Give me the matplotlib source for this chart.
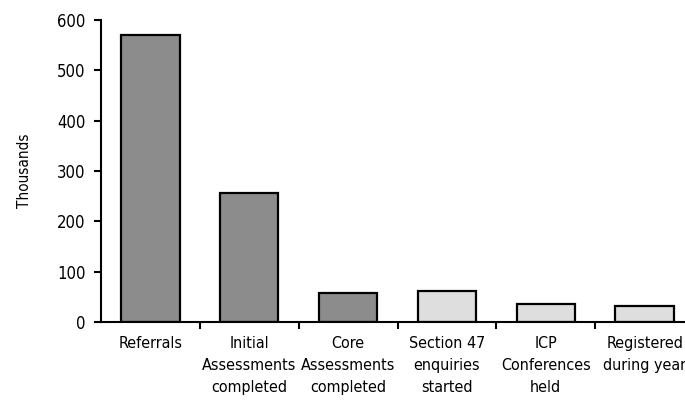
import matplotlib.pyplot as plt
import numpy as np

categories = ["Referrals", "Initial\nAssessments\ncompleted", "Core\nAssessments\ncompleted",
              "Section 47\nenquiries\nstarted", "ICP\nConferences\nheld", "Registered\nduring year"]
values = [570, 257, 57, 62, 36, 32]
colors = ["#8c8c8c", "#8c8c8c", "#8c8c8c", "#dedede", "#dedede", "#dedede"]
yticks = [0, 100, 200, 300, 400, 500, 600]

plt.rcParams['font.family'] = ['DejaVu Sans']
plt.rcParams['font.stretch'] = 'condensed'

fig = plt.figure(figsize=(6.85, 4.07), dpi=100)
ax = fig.add_axes([101/685, 85/407, 593/685, 302/407])

x = np.arange(len(categories))
ax.bar(x, values, width=0.59, color=colors, edgecolor="black", linewidth=1.6)

ax.set_ylim(0, 600)
ax.set_xlim(-0.5, 5.5)
ax.set_yticks(yticks)
ax.set_yticklabels([str(t) for t in yticks], fontsize=12, fontstretch='condensed')
ax.set_xticks(x)
ax.set_xticklabels(categories, fontsize=11.5, linespacing=1.6, va="top", fontstretch='condensed')
ax.tick_params(axis="x", which="major", length=0, pad=10)
ax.set_xticks(np.arange(0.5, 6, 1), minor=True)
ax.tick_params(axis="x", which="minor", length=5, width=1.5, direction="out")
ax.tick_params(axis="y", length=5, width=1.5, direction="out", pad=6)

for s in ["top", "right"]:
    ax.spines[s].set_visible(False)
for s in ["left", "bottom"]:
    ax.spines[s].set_linewidth(1.5)

ax.set_ylabel("Thousands", fontsize=11, labelpad=18, fontstretch='condensed')

fig.savefig("out.png", dpi=100)
